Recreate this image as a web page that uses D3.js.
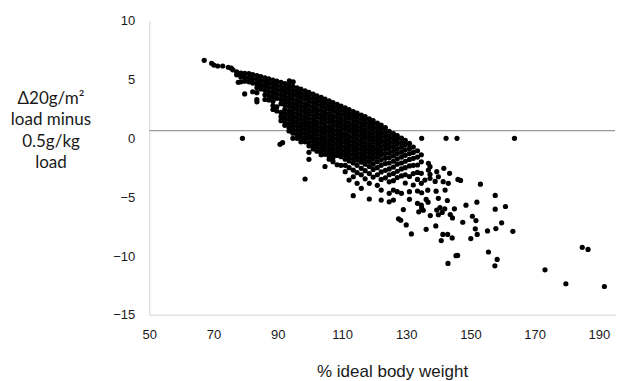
<!DOCTYPE html>
<html>
<head>
<meta charset="utf-8">
<script src="https://cdn.jsdelivr.net/npm/d3@7"></script>
<style>
  html, body { margin: 0; padding: 0; background: #fff; }
</style>
</head>
<body>
<div id="chart"></div>
<script>
// % ideal body weight vs difference between the 20g/m2 and 0.5g/kg loads.
// Values. The crowded core is kept per x column.
const denseColumns = [
  [76.0, [5.82]],
  [77.2, [5.66, 5.4]],
  [78.5, [5.55, 5.22, 4.8]],
  [79.7, [5.52, 5.18, 4.86, 3.77]],
  [81.0, [5.5, 5.14, 4.8]],
  [82.2, [5.42, 5.06, 4.7, 3.96]],
  [83.5, [5.33, 4.97, 4.62, 4.3, 3.88, 3.3, 3.1]],
  [84.7, [5.25, 4.9, 4.54, 4.2]],
  [86.0, [5.15, 4.8, 4.44, 4.08, 3.7, 3.3]],
  [87.2, [5.05, 4.7, 4.34, 3.98, 3.62, 3.26]],
  [88.5, [4.95, 4.6, 4.24, 3.88, 3.5, 3.14, 2.78, 2.45]],
  [89.7, [4.86, 4.5, 4.14, 3.78, 3.4, 2.68, 2.32]],
  [91.0, [4.76, 4.4, 4.04, 3.66, 3.3, 2.94, 2.2, 1.84, 1.5]],
  [92.2, [4.66, 4.3, 3.94, 3.56, 3.2, 2.84, 2.46, 2.1, 1.74, 1.38, 1.1]],
  [93.5, [4.54, 4.18, 3.82, 3.44, 3.08, 2.72, 2.34, 1.98, 1.62, 1.26, 0.9, 0.62]],
  [94.7, [4.42, 4.06, 3.7, 3.32, 2.96, 2.6, 2.22, 1.86, 1.5, 1.14, 0.78, 0.44, 0.0]],
  [96.0, [4.3, 3.94, 3.58, 3.2, 2.84, 2.48, 2.1, 1.74, 1.38, 1.02, 0.66, 0.3, 0.0]],
  [97.2, [4.18, 3.82, 3.46, 3.08, 2.72, 2.36, 1.98, 1.62, 1.26, 0.9, 0.54, 0.18, 0.0, -0.3]],
  [98.5, [4.04, 3.68, 3.32, 2.94, 2.58, 2.22, 1.84, 1.48, 1.12, 0.76, 0.4, 0.04, -0.3, -3.46]],
  [99.7, [3.9, 3.54, 3.18, 2.8, 2.44, 2.08, 1.7, 1.34, 0.98, 0.62, 0.26, 0.0, -0.36, -0.64, -1.19, -1.79]],
  [101.0, [3.76, 3.4, 3.04, 2.66, 2.3, 1.94, 1.56, 1.2, 0.84, 0.48, 0.12, -0.24, -0.6, -0.9]],
  [102.2, [3.62, 3.26, 2.9, 2.52, 2.16, 1.8, 1.42, 1.06, 0.7, 0.34, -0.02, -0.38, -0.74, -1.1]],
  [103.5, [3.48, 3.12, 2.76, 2.38, 2.02, 1.66, 1.28, 0.92, 0.56, 0.2, -0.16, -0.52, -0.88, -1.22, -1.4]],
  [104.7, [3.34, 2.98, 2.62, 2.24, 1.88, 1.52, 1.14, 0.78, 0.42, 0.06, -0.3, -0.66, -1.02, -1.36, -2.4]],
  [106.0, [3.18, 2.82, 2.46, 2.08, 1.72, 1.36, 0.98, 0.62, 0.26, -0.1, -0.46, -0.82, -1.18, -1.52, -1.78]],
  [107.2, [3.04, 2.68, 2.32, 1.94, 1.58, 1.22, 0.84, 0.48, 0.12, -0.24, -0.6, -0.96, -1.32, -1.66, -1.99]],
  [108.5, [2.88, 2.52, 2.16, 1.78, 1.42, 1.06, 0.68, 0.32, -0.04, -0.4, -0.76, -1.12, -1.46, -2.25]],
  [109.7, [2.74, 2.38, 2.02, 1.64, 1.28, 0.92, 0.54, 0.18, -0.18, -0.54, -0.9, -1.26, -1.56, -2.3]],
  [111.0, [2.58, 2.22, 1.86, 1.48, 1.12, 0.76, 0.38, 0.02, -0.34, -0.7, -1.06, -1.42, -1.78, -2.3, -2.84]],
  [112.2, [2.44, 2.08, 1.72, 1.34, 0.98, 0.62, 0.24, -0.12, -0.48, -0.84, -1.2, -1.56, -1.92, -2.5, -3.55]],
  [113.5, [2.28, 1.92, 1.56, 1.18, 0.82, 0.46, 0.08, -0.28, -0.64, -1.0, -1.36, -1.72, -2.1, -2.7, -3.27, -4.88]],
  [114.7, [2.14, 1.78, 1.42, 1.04, 0.68, 0.32, -0.06, -0.42, -0.78, -1.14, -1.5, -1.86, -2.3, -2.92, -3.83]],
  [116.0, [1.98, 1.62, 1.26, 0.88, 0.52, 0.16, -0.22, -0.58, -0.94, -1.3, -1.66, -2.02, -2.55, -3.1, -4.25]],
  [117.2, [1.84, 1.48, 1.12, 0.74, 0.38, 0.02, -0.36, -0.72, -1.08, -1.44, -1.8, -2.2, -2.75, -3.45]],
  [118.5, [1.66, 1.3, 0.94, 0.56, 0.2, -0.16, -0.54, -0.9, -1.26, -1.62, -1.98, -2.4, -3.0, -3.83, -5.16]],
  [119.7, [1.5, 1.14, 0.78, 0.4, 0.04, -0.32, -0.7, -1.06, -1.42, -1.78, -2.2, -2.65, -3.3]],
  [121.0, [1.3, 0.94, 0.58, 0.2, -0.16, -0.52, -0.9, -1.26, -1.62, -2.0, -2.5, -3.1, -4.0]],
  [122.2, [1.12, 0.76, 0.4, 0.02, -0.34, -0.7, -1.08, -1.44, -1.85, -2.3, -2.86, -3.5, -4.4, -5.25]],
  [123.5, [0.9, 0.54, 0.18, -0.2, -0.56, -0.92, -1.3, -1.7, -2.15, -2.72, -3.36]],
  [124.7, [0.6, 0.24, -0.12, -0.5, -0.86, -1.25, -1.65, -2.1, -2.6, -3.1, -3.7, -4.68, -5.4]],
  [126.0, [0.4, 0.04, -0.32, -0.7, -1.1, -1.5, -1.95, -2.45, -3.0, -3.6, -4.4, -5.25]],
  [127.2, [0.22, -0.14, -0.5, -0.9, -1.3, -1.75, -2.2, -2.8, -3.34, -4.54]],
  [128.5, [0.02, -0.36, -0.76, -1.18, -1.6, -2.1, -2.6, -3.2, -4.68]],
  [129.7, [-0.18, -0.58, -1.0, -1.45, -1.95, -2.5, -3.1, -3.8]],
  [131.0, [-0.44, -0.86, -1.3, -1.8, -2.35, -3.25, -4.54, -5.19]],
  [132.2, [-0.74, -1.2, -1.7, -2.3, -3.0, -3.97]],
  [133.5, [-1.06, -1.6, -2.27, -2.9, -3.5, -4.48, -5.53]],
  [134.7, [-1.4, -2.0, -2.98, -3.83, -5.67]]
];

// upper arm, stray points and the sparse tail
const scatterPoints = [
  [67.1, 6.63], [69.4, 6.38], [70.1, 6.23], [71.3, 6.15], [72.85, 6.15], [74.6, 6.04], [75.5, 5.96],
  [77.7, 4.76], [79.0, 0.0], [90.7, -0.51], [91.5, -0.37], [93.6, 4.89], [94.8, 4.81],
  [134.8, 0.0], [142.4, 0.0], [145.8, 0.0], [163.7, 0.0],
  [135.8, -3.55], [137.4, -3.4], [136.9, -2.13], [137.4, -2.41], [139.5, -2.84], [141.5, -3.69],
  [143.1, -3.83], [137.4, -3.06], [140.0, -3.27], [143.5, -2.98], [139.0, -3.67], [141.7, -2.55],
  [136.9, -2.7], [146.1, -3.5], [146.9, -3.58], [153.1, -3.9],
  [136.7, -4.41], [139.3, -4.5], [134.8, -4.63], [142.1, -4.4], [140.0, -5.1], [142.8, -5.29],
  [136.2, -5.2], [136.8, -5.43], [134.8, -5.91], [135.3, -6.12], [133.9, -6.25],
  [139.5, -6.1], [140.5, -5.9], [141.2, -6.3], [140.0, -6.5], [142.0, -6.0],
  [137.5, -6.57], [143.7, -6.48], [144.4, -6.77], [145.0, -6.0],
  [139.2, -7.45], [136.2, -7.74], [141.4, -8.17], [142.9, -8.17], [144.3, -8.47], [140.9, -8.7],
  [146.0, -9.96], [145.5, -9.98], [143.0, -10.64],
  [148.6, -5.69], [152.0, -5.43], [157.7, -4.86], [160.9, -5.8], [157.7, -6.03], [150.6, -6.63],
  [151.7, -7.0], [147.6, -7.14], [159.7, -7.19], [157.9, -7.68], [151.5, -7.7], [155.3, -7.88],
  [163.2, -7.91], [152.1, -8.17], [150.1, -8.53], [155.6, -9.67], [158.3, -10.3], [157.6, -10.84],
  [173.2, -11.18], [179.7, -12.37], [184.8, -9.27], [186.6, -9.45], [191.7, -12.6],
  [127.6, -6.85], [128.3, -6.97], [129.1, -6.06], [130.0, -7.37], [131.6, -8.13]
];

const meanDifference = 0.65;
const xTicks = [50, 70, 90, 110, 130, 150, 170, 190];
const yTicks = [10, 5, 0, -5, -10, -15];
const yTitleLines = ['Δ20g/m²', 'load minus', '0.5g/kg', 'load'];
const xTitle = '% ideal body weight';

const width = 619;
const height = 381;
const plot = { left: 149.3, right: 615, top: 20.7, bottom: 314.7 };
const dotRadius = 2.6;

const points = denseColumns
  .flatMap(([x, ys]) => ys.map(y => ({ x, y })))
  .concat(scatterPoints.map(([x, y]) => ({ x, y })));

const svg = d3.select('#chart').append('svg')
  .attr('width', width)
  .attr('height', height)
  .style('display', 'block')
  .style('background', '#fff');

const xScale = d3.scaleLinear().domain([50, 195]).range([plot.left, plot.right]);
const yScale = d3.scaleLinear().domain([-15, 10]).range([plot.bottom, plot.top]);

// axes (only the thin grey domain lines and the labels)
const xAxis = svg.append('g')
  .attr('transform', `translate(0, ${plot.bottom})`)
  .call(d3.axisBottom(xScale).tickValues(xTicks).tickSize(0).tickPadding(15));

const yAxis = svg.append('g')
  .attr('transform', `translate(${plot.left}, 0)`)
  .call(d3.axisLeft(yScale).tickValues(yTicks).tickSize(0).tickPadding(14));

[xAxis, yAxis].forEach(axis => {
  axis.select('.domain').attr('stroke', '#d4d4d4').attr('stroke-width', 1);
  axis.selectAll('text')
    .attr('fill', '#1a1a1a')
    .style('font-family', '"Liberation Sans", Arial, sans-serif')
    .style('font-size', '13px');
});

// horizontal reference line
svg.append('line')
  .attr('x1', xScale(50))
  .attr('x2', xScale(195))
  .attr('y1', yScale(meanDifference))
  .attr('y2', yScale(meanDifference))
  .attr('stroke', '#9a9a9a')
  .attr('stroke-width', 1.3);

svg.append('g')
  .selectAll('circle')
  .data(points)
  .join('circle')
  .attr('cx', d => xScale(d.x))
  .attr('cy', d => yScale(d.y))
  .attr('r', dotRadius)
  .attr('fill', '#000');

// titles
svg.append('text')
  .attr('x', 392.6)
  .attr('y', 377)
  .attr('text-anchor', 'middle')
  .attr('fill', '#1a1a1a')
  .style('font-family', '"Liberation Sans", Arial, sans-serif')
  .style('font-size', '17px')
  .text(xTitle);

svg.append('g')
  .selectAll('text')
  .data(yTitleLines)
  .join('text')
  .attr('x', 51)
  .attr('y', (d, i) => 104 + i * 21.4)
  .attr('text-anchor', 'middle')
  .attr('fill', '#1a1a1a')
  .style('font-family', 'Lato, "Open Sans", sans-serif')
  .style('font-size', '17px')
  .text(d => d);
</script>
</body>
</html>
